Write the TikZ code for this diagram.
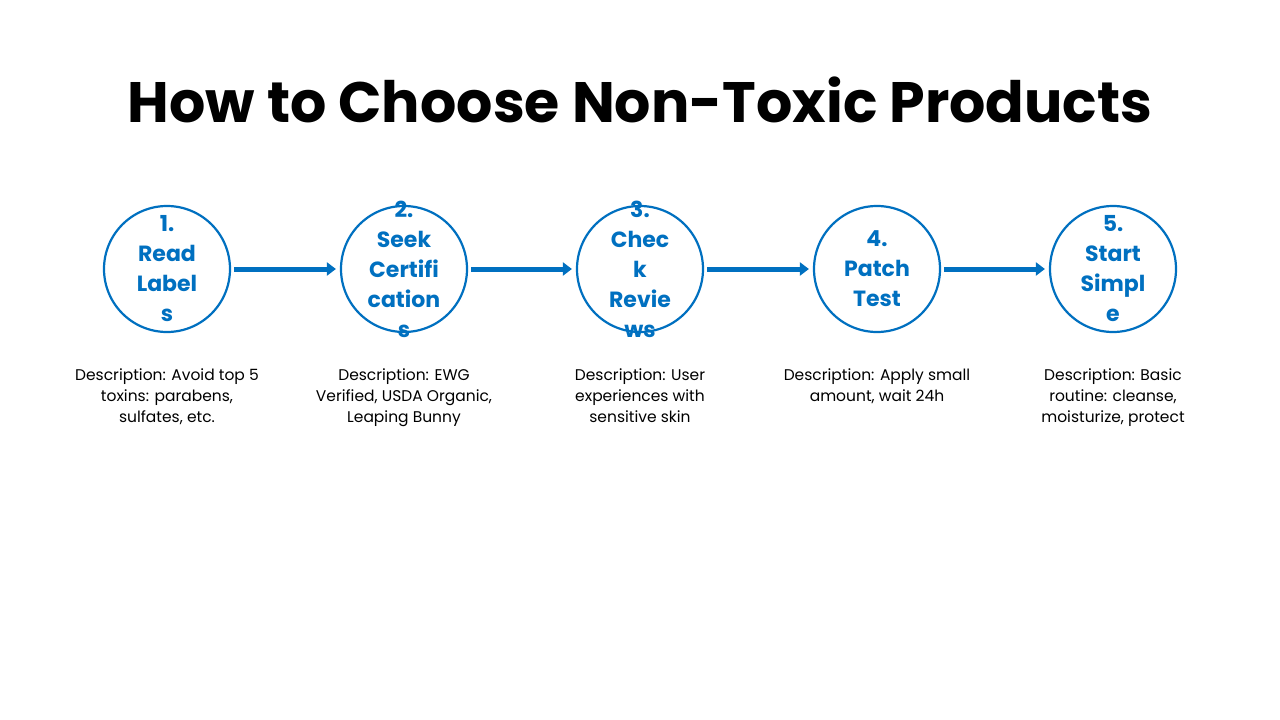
\documentclass[tikz,border=0pt]{standalone}
\usepackage{fontspec}
\setmainfont{Poppins}
\usetikzlibrary{arrows.meta}
\definecolor{cblue}{HTML}{0070C0}
\begin{document}
\begin{tikzpicture}[x=1pt,y=-1pt,
  stepnode/.style={circle,draw=cblue,line width=2.2pt,fill=white,minimum size=126pt,inner sep=0pt},
  steptext/.style={text=cblue,font=\fontsize{22}{30}\selectfont\bfseries,align=center,inner sep=0pt},
  conn/.style={draw=cblue,line width=5pt,-{Triangle[length=9pt,width=13pt]},shorten <=3pt,shorten >=4pt},
  desc/.style={font=\fontsize{15.5}{21}\selectfont,align=center,anchor=north}]
\useasboundingbox[fill=white] (0,0) rectangle (1280,720);
\node[font=\fontsize{57}{62}\selectfont\bfseries] (title) at (640,100) {How to Choose Non-Toxic Products};
\node[stepnode] (s1) at (167,269) {};
\node[stepnode] (s2) at (404,269) {};
\node[stepnode] (s3) at (640,269) {};
\node[stepnode] (s4) at (877,269) {};
\node[stepnode] (s5) at (1113,269) {};
\node[steptext] (t1) at (s1) {1.\\Read\\Label\\s};
\node[steptext] (t2) at (s2) {2.\\Seek\\Certifi\\cation\\s};
\node[steptext] (t3) at (s3) {3.\\Chec\\k\\Revie\\ws};
\node[steptext] (t4) at (s4) {4.\\Patch\\Test};
\node[steptext] (t5) at (s5) {5.\\Start\\Simpl\\e};
\draw[conn] (s1) -- (s2);
\draw[conn] (s2) -- (s3);
\draw[conn] (s3) -- (s4);
\draw[conn] (s4) -- (s5);
\node[desc] (d1) at (167,365) {Description: Avoid top 5\\toxins: parabens,\\sulfates, etc.};
\node[desc] (d2) at (404,365) {Description: EWG\\Verified, USDA Organic,\\Leaping Bunny};
\node[desc] (d3) at (640,365) {Description: User\\experiences with\\sensitive skin};
\node[desc] (d4) at (877,365) {Description: Apply small\\amount, wait 24h};
\node[desc] (d5) at (1113,365) {Description: Basic\\routine: cleanse,\\moisturize, protect};
\end{tikzpicture}
\end{document}
